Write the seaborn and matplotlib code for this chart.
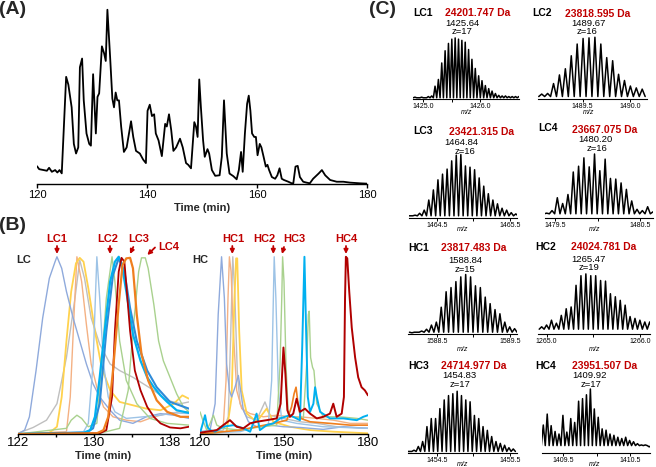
import numpy as np
import pandas as pd
import seaborn as sns
import matplotlib
matplotlib.use("Agg")
import matplotlib.pyplot as plt

# ---------------- data ----------------
# (A) total ion chromatogram: (time min, relative intensity)
tic = [(120.0, 10.2), (120.4, 8.5), (121.2, 8), (121.8, 7.6), (122.2, 9.3), (122.7, 7), (123.3, 8),
       (123.7, 6.6), (124.1, 8), (124.5, 6.1), (125.3, 61.5), (125.7, 57), (126.3, 44), (126.7, 23),
       (127.1, 17.5), (127.5, 21), (127.8, 67), (128.2, 72), (128.5, 48), (129.0, 29), (129.5, 23),
       (129.8, 22), (130.2, 63), (130.7, 29), (131.0, 50), (131.3, 52), (131.8, 79), (132.2, 75),
       (132.5, 70.6), (132.8, 100), (133.3, 72.5), (133.7, 49), (134.0, 44), (134.3, 52.5), (134.6, 48),
       (134.9, 48), (135.3, 33), (135.8, 18.4), (136.3, 21), (137.1, 36), (137.5, 27), (138.0, 19),
       (138.7, 17.5), (139.3, 14), (139.8, 12), (140.1, 42), (140.5, 45.5), (140.9, 39), (141.3, 40),
       (141.6, 29), (142.1, 25), (142.7, 16), (143.3, 34.5), (143.6, 33), (144.0, 40), (144.4, 31),
       (144.8, 19), (145.3, 21), (146.0, 26), (146.5, 21), (147.1, 12), (147.5, 11), (148.0, 9),
       (148.6, 35.5), (148.9, 33), (149.2, 27), (149.5, 60), (149.8, 44), (150.2, 25), (150.5, 15.6),
       (151.0, 20), (151.3, 17.5), (151.8, 8), (152.4, 4.7), (153.2, 5), (153.6, 15.6), (154.0, 48),
       (154.5, 17.5), (155.0, 6), (155.7, 4.5), (156.3, 2.7), (156.7, 8), (157.1, 18.4), (157.4, 7),
       (157.8, 29), (158.2, 46), (158.5, 50.7), (158.8, 42), (159.1, 29), (159.5, 27), (159.8, 27),
       (160.1, 16.5), (160.5, 23), (160.8, 21), (161.2, 15.6), (161.6, 10), (161.9, 11), (162.2, 8),
       (162.7, 4), (163.3, 3), (163.7, 5), (164.1, 9), (164.5, 3), (164.9, 2.3), (165.7, 1.3),
       (166.3, 0.4), (166.6, 0.4), (167.0, 10), (167.4, 10.4), (167.8, 4), (168.4, 1.3), (169.0, 0.8),
       (169.6, 0.4), (170.2, 3), (171.2, 6), (171.8, 8), (172.4, 5), (173.3, 2.3), (174.5, 1.3),
       (175.7, 1.3), (176.9, 0.8), (178.7, 0.4), (180.0, 0.2)]

# (B) extracted ion chromatograms, light chain window
lc_gray = [(122.0, 0.4), (123.6, 3.7), (125.0, 7.8), (126.1, 17.1), (127.1, 43.2), (128.0, 76.7),
           (128.5, 98.1), (129.0, 87.9), (129.7, 65.5), (130.6, 50.7), (131.7, 39.5), (132.7, 35.8),
           (134.1, 32.0), (135.2, 28.3), (136.3, 24.6), (137.7, 19.0), (139.1, 17.1), (140.0, 18.1)]
lc_salmon = [(122.0, 0), (127.1, 1.3), (127.5, 20.9), (127.9, 67.4), (128.2, 100), (128.7, 86.0),
             (129.2, 61.8), (129.7, 39.5), (130.3, 26.4), (131.0, 15.3), (132.0, 9.7), (133.4, 7.8),
             (134.9, 6.9), (136.3, 9.7), (137.7, 11.5), (139.1, 12.5), (140.0, 12.5)]
lc_yellow = [(122.0, 0), (125.3, 0.7), (126.1, 4.1), (126.6, 20.9), (127.1, 52.5), (127.6, 80.4),
             (128.1, 96.3), (128.5, 99.4), (128.9, 97.2), (129.4, 82.3), (130.1, 58.1), (130.8, 37.6),
             (131.7, 24.6), (132.7, 18.1), (134.1, 16.2), (135.5, 14.3), (137.0, 13.4), (138.4, 17.1),
             (139.3, 21.8), (140.0, 19.9)]
lc_periwinkle = [(122.2, 0.7), (122.7, 2.2), (123.2, 9.7), (123.9, 35.8), (124.6, 65.5), (125.3, 87.9),
                 (125.9, 97.2), (126.1, 100), (126.6, 93.5), (127.1, 80.4), (127.8, 65.5), (128.5, 52.5),
                 (129.2, 39.5), (129.9, 28.3), (130.6, 20.9), (131.7, 13.4), (132.7, 7.8), (134.1, 6.0),
                 (135.5, 9.7), (137.0, 11.5), (138.4, 10.6), (140.0, 8.8)]
lc_lightblue = [(122.0, 0), (128.9, 1.3), (129.4, 6.0), (129.9, 39.5), (130.3, 100), (130.6, 76.7),
                (131.0, 39.5), (131.5, 20.9), (132.2, 12.5), (133.4, 8.8), (135.2, 9.7), (137.0, 10.6),
                (138.4, 11.9), (140.0, 11.5)]
lc_green_a = [(122.0, 0), (127.1, 3.2), (127.6, 7.8), (128.2, 10.6), (128.7, 8.8), (129.4, 4.1),
              (130.3, 6.0), (130.8, 39.5), (131.3, 76.7), (131.9, 100), (132.2, 86.0), (132.7, 52.5),
              (133.4, 30.2), (134.5, 17.1), (135.9, 8.8), (137.7, 6.0), (140.0, 5.0)]
lc_green_b = [(122.0, 0), (130.6, 0.4), (132.7, 3.2), (133.6, 24.6), (134.1, 58.1), (134.7, 91.6),
              (135.0, 99.4), (135.4, 99.4), (135.7, 93.5), (136.3, 73.0), (136.8, 52.5), (137.3, 41.3),
              (138.0, 32.0), (138.7, 22.7), (139.4, 15.3), (140.0, 12.5)]
lc_blue = [(122.0, 0), (128.9, 0.7), (129.6, 2.2), (130.1, 9.7), (130.6, 32.0), (131.2, 61.8),
           (131.7, 86.0), (132.2, 97.2), (132.6, 100), (132.9, 96.3), (133.4, 80.4), (134.1, 56.2),
           (134.9, 41.3), (135.6, 32.0), (136.3, 26.4), (137.0, 21.8), (137.7, 18.1), (138.7, 13.4),
           (140.0, 11.9)]
lc_darkblue = [(122.0, 0), (129.2, 0.7), (129.9, 3.2), (130.6, 17.1), (131.3, 58.1), (132.0, 89.8),
               (132.6, 99.1), (133.2, 91.6), (133.8, 71.1), (134.5, 52.5), (135.6, 35.8), (136.6, 26.4),
               (138.0, 18.1), (140.0, 14.3)]
lc_orange = [(122.0, 0), (130.3, 0.4), (131.0, 2.2), (131.5, 9.7), (132.0, 35.8), (132.6, 73.0),
             (133.0, 95.3), (133.4, 99.1), (133.8, 99.4), (134.1, 93.5), (134.5, 67.4), (135.0, 45.1),
             (135.7, 30.2), (136.6, 19.0), (137.7, 12.5), (139.1, 9.7), (140.0, 9.7)]
lc_darkred = [(122.0, 0), (130.6, 0.4), (131.3, 2.2), (131.9, 20.9), (132.2, 58.1), (132.6, 91.6),
              (132.9, 99.4), (133.2, 97.2), (133.4, 84.2), (133.8, 58.1), (134.3, 35.8), (134.9, 24.6),
              (135.6, 15.3), (136.3, 9.7), (137.0, 6.0), (138.0, 3.7), (139.1, 3.2), (140.0, 4.1)]

# (B) heavy chain window
hc_gray = [(120.0, 0), (128.3, 2.2), (130.1, 9.7), (131.0, 58.1), (131.7, 100), (132.4, 80.4),
           (133.3, 35.8), (134.3, 17.1), (136.7, 9.7), (140.2, 7.8), (143.2, 18.1), (145.0, 10.6),
           (149.8, 8.8), (155.7, 6.9), (161.7, 6.0), (168.8, 4.1), (180.0, 3.2)]
hc_salmon = [(120.0, 0), (126.0, 2.2), (128.3, 4.1), (129.3, 30.2), (130.0, 76.7), (130.5, 100),
             (131.1, 91.6), (131.9, 58.1), (133.1, 24.6), (134.9, 14.3), (137.9, 11.5), (142.6, 9.7),
             (147.4, 10.6), (152.1, 9.7), (155.7, 9.7), (161.7, 8.8), (167.6, 7.8), (173.6, 6.0),
             (180.0, 6.0)]
hc_yellow = [(120.0, 0), (129.5, 1.3), (131.3, 20.9), (132.3, 76.7), (132.9, 99.1), (133.3, 99.1),
             (134.0, 58.1), (134.9, 24.6), (136.7, 11.5), (140.2, 6.9), (143.8, 14.3), (146.2, 6.9),
             (152.1, 4.1), (159.3, 2.2), (167.6, 1.3), (180.0, 0.4)]
hc_periwinkle = [(120.0, 1.3), (123.6, 2.2), (125.4, 17.1), (126.5, 67.4), (127.7, 100), (128.7, 76.7),
                 (129.5, 39.5), (130.5, 24.6), (131.3, 20.9), (132.5, 26.4), (133.7, 33.0), (134.5, 24.6),
                 (135.5, 13.4), (137.3, 6.9), (140.2, 4.1), (145.0, 5.0), (149.8, 4.1), (155.7, 3.7),
                 (164.0, 2.6), (171.2, 4.1), (180.0, 3.2)]
hc_lightblue = [(120.0, 0.4), (134.3, 1.3), (140.2, 4.1), (144.4, 5.0), (145.6, 30.2), (146.2, 76.7),
                (146.5, 100), (147.1, 76.7), (148.0, 24.6), (149.2, 7.8), (154.5, 6.0), (164.0, 4.1),
                (180.0, 3.2)]
hc_green = [(120.0, 12.5), (121.0, 7.8), (122.4, 2.2), (123.6, 6.0), (124.8, 10.6), (126.0, 5.0),
            (128.3, 3.2), (134.3, 2.2), (140.2, 3.7), (147.4, 5.0), (148.6, 39.5), (149.2, 76.7),
            (149.5, 100), (150.0, 86.0), (150.7, 39.5), (151.5, 11.5), (153.3, 9.7), (156.9, 8.8),
            (158.1, 39.5), (158.7, 67.4), (159.0, 69.3), (159.5, 43.2), (160.2, 37.6), (160.7, 35.8),
            (161.7, 17.1), (164.0, 9.7), (170.0, 9.7), (176.0, 8.8), (180.0, 7.8)]
hc_orange = [(120.0, 0), (128.3, 1.3), (134.3, 2.2), (140.2, 4.1), (146.2, 6.0), (151.0, 7.8),
             (152.7, 15.3), (153.6, 22.7), (154.3, 26.4), (155.0, 17.1), (156.0, 8.8), (159.3, 6.9),
             (166.4, 6.0), (173.6, 5.0), (180.0, 5.0)]
hc_blue = [(120.0, 0.4), (121.0, 6.0), (121.8, 10.6), (122.6, 4.1), (123.6, 2.2), (125.4, 1.3),
           (128.3, 4.1), (131.9, 5.0), (135.5, 3.2), (137.9, 1.3), (139.0, 6.0), (140.2, 11.5),
           (141.4, 2.2), (143.8, 5.0), (146.2, 6.0), (148.6, 8.8), (152.1, 10.6), (155.7, 7.8),
           (156.5, 48.8), (157.3, 100), (157.9, 58.1), (158.5, 20.9), (159.3, 12.5), (160.5, 17.1),
           (161.1, 26.4), (161.7, 20.9), (162.9, 12.5), (166.4, 8.8), (171.2, 8.8), (176.0, 7.8),
           (178.3, 9.7), (180.0, 10.6)]
hc_darkred = [(120.0, 0.7), (126.0, 2.2), (128.3, 5.0), (130.7, 7.8), (133.1, 4.1), (135.5, 3.2),
              (137.9, 6.0), (140.2, 6.9), (143.8, 7.8), (147.4, 8.8), (148.8, 17.1), (149.8, 48.8),
              (150.5, 33.9), (151.2, 13.4), (152.1, 9.7), (153.3, 11.5), (154.5, 19.9), (155.7, 12.5),
              (157.5, 14.3), (159.3, 11.5), (161.7, 8.8), (164.0, 9.7), (166.4, 11.5), (167.6, 17.1),
              (168.8, 9.7), (170.6, 11.5), (171.4, 20.9), (171.8, 76.7), (172.1, 100), (172.6, 99.1),
              (173.3, 80.4), (174.2, 60.0), (175.4, 43.2), (176.5, 32.0), (177.7, 26.4), (178.9, 24.6),
              (180.0, 21.8)]

# (C) deconvoluted isotope envelopes
spec_names = ["LC1", "LC2", "LC3", "LC4", "HC1", "HC2", "HC3", "HC4"]
spec_mass = ["24201.747 Da", "23818.595 Da", "23421.315 Da", "23667.075 Da",
             "23817.483 Da", "24024.781 Da", "24714.977 Da", "23951.507 Da"]
spec_mz = ["1425.64", "1489.67", "1464.84", "1480.20", "1588.84", "1265.47", "1454.83", "1409.92"]
spec_z = [17, 16, 16, 16, 15, 19, 17, 17]
spec_first = [1424.853, 1489.067, 1464.142, 1479.402, 1588.162, 1264.946, 1454.132, 1409.2]
spec_valley = [0.02, 0.04, 0.03, 0.07, 0.03, 0.08, 0.03, 0.12]
lc1_h = [0.03, 0.02, 0.03, 0.02, 0.04, 0.05, 0.21, 0.32, 0.59, 0.79, 0.91, 0.98, 1.0, 0.98, 0.96, 0.93,
         0.81, 0.65, 0.50, 0.38, 0.30, 0.22, 0.17, 0.13, 0.09, 0.06, 0.05, 0.05, 0.04, 0.04, 0.04, 0.04]
lc2_h = [0.08, 0.09, 0.25, 0.39, 0.49, 0.70, 0.89, 0.98, 0.99, 1.0, 0.89, 0.67, 0.62, 0.40, 0.30, 0.21,
         0.18, 0.16]
lc3_h = [0.03, 0.04, 0.07, 0.12, 0.28, 0.44, 0.60, 0.69, 0.77, 0.90, 0.99, 1.0, 0.82, 0.80, 0.76, 0.63,
         0.50, 0.38, 0.28, 0.22, 0.15, 0.12, 0.08, 0.06]
lc4_h = [0.08, 0.12, 0.32, 0.23, 0.37, 0.72, 0.81, 0.94, 0.80, 1.0, 0.74, 0.92, 0.62, 0.61, 0.55, 0.45,
         0.27, 0.14, 0.12, 0.18, 0.10]
hc1_h = [0.02, 0.03, 0.05, 0.08, 0.15, 0.20, 0.45, 0.71, 0.78, 0.88, 0.96, 1.0, 0.96, 0.81, 0.78, 0.62,
         0.51, 0.41, 0.34, 0.20, 0.12, 0.09]
hc2_h = [0.12, 0.15, 0.23, 0.18, 0.31, 0.42, 0.45, 0.81, 0.97, 1.0, 0.97, 0.97, 0.89, 0.88, 0.67, 0.62,
         0.56, 0.48, 0.29, 0.26, 0.23, 0.20, 0.20]
hc3_h = [0.03, 0.05, 0.11, 0.19, 0.43, 0.56, 0.56, 0.72, 0.86, 0.93, 0.96, 1.0, 0.93, 0.86, 0.83, 0.61,
         0.56, 0.43, 0.37, 0.27, 0.19, 0.16, 0.13, 0.09, 0.07]
hc4_h = [0.44, 0.61, 0.43, 0.34, 0.30, 0.59, 0.33, 0.54, 0.48, 0.81, 0.85, 0.91, 1.0, 0.69, 0.56, 0.38,
         0.36, 0.30, 0.28, 0.25, 0.23, 0.25, 0.20, 0.18, 0.15, 0.13, 0.13, 0.10]
spec_heights = [lc1_h, lc2_h, lc3_h, lc4_h, hc1_h, hc2_h, hc3_h, hc4_h]

# ---------------- style / layout ----------------
sns.set_style("white")
plt.rcParams["font.family"] = ["Liberation Sans", "DejaVu Sans"]

W, H = 656, 467
RED = "#C00000"
fig = plt.figure(figsize=(W / 100, H / 100), dpi=100)


def px_axes(l, t, r, b):
    return fig.add_axes([l / W, 1 - b / H, (r - l) / W, (b - t) / H])


def ftext(x, y, s, **kw):
    fig.text(x / W, 1 - y / H, s, ha="center", va="center", **kw)


def only_bottom(ax, lw=1.0):
    for s in ["left", "top", "right"]:
        ax.spines[s].set_visible(False)
    ax.spines["bottom"].set_color("black")
    ax.spines["bottom"].set_linewidth(lw)
    ax.set_yticks([])
    ax.set_ylabel("")
    ax.grid(False)


def trace(ax, pts, color, lw):
    df = pd.DataFrame(pts, columns=["t", "i"])
    sns.lineplot(data=df, x="t", y="i", ax=ax, color=color, linewidth=lw,
                 estimator=None, sort=False, legend=False)


# ---- (A)
axA = px_axes(37, 8, 367, 184)
trace(axA, tic, "black", 1.3)
axA.set_xlim(120, 180)
axA.set_ylim(0, 101)
only_bottom(axA)
axA.set_xticks([120, 140, 160, 180])
axA.tick_params(axis="x", length=3, width=1, pad=1.5, labelsize=8, colors="black", bottom=True)
axA.set_xlabel("Time (min)", fontsize=8, fontweight="bold", labelpad=2)

# ---- (B)
axL = px_axes(18, 255, 189, 434)
axH = px_axes(200, 255, 368, 434)
lc_traces = [(lc_gray, "#BFBFBF", 1.0), (lc_salmon, "#F4B183", 1.0), (lc_yellow, "#FFD24D", 1.3),
             (lc_periwinkle, "#8FAADC", 1.0), (lc_lightblue, "#9DC3E6", 1.0),
             (lc_green_a, "#A9D18E", 1.0), (lc_green_b, "#A9D18E", 1.0),
             (lc_darkblue, "#2E8BD8", 1.5), (lc_blue, "#00B0F0", 1.6),
             (lc_darkred, "#B00000", 1.3), (lc_orange, "#F07F1E", 1.6)]
hc_traces = [(hc_gray, "#BFBFBF", 1.0), (hc_salmon, "#F4B183", 1.0), (hc_yellow, "#FFD24D", 1.3),
             (hc_periwinkle, "#8FAADC", 1.0), (hc_lightblue, "#9DC3E6", 1.0),
             (hc_green, "#A9D18E", 1.0), (hc_orange, "#F07F1E", 1.2),
             (hc_blue, "#00B0F0", 1.4), (hc_darkred, "#B00000", 1.4)]
for pts, c, lw in lc_traces:
    trace(axL, pts, c, lw)
for pts, c, lw in hc_traces:
    trace(axH, pts, c, lw)

axL.set_xlim(122, 140)
axH.set_xlim(120, 180)
for ax in (axL, axH):
    ax.set_ylim(0, 101)
    only_bottom(ax)
    ax.tick_params(axis="x", length=2, width=1, pad=0.5, labelsize=9.5, colors="black", bottom=True)
    ax.set_xlabel("Time (min)", fontsize=8, fontweight="bold", labelpad=1)
axL.set_xticks([122, 126, 130, 134, 138])
axL.set_xticklabels(["122", "", "130", "", "138"])
axH.set_xticks([120, 130, 140, 150, 160, 170, 180])
axH.set_xticklabels(["120", "", "", "150", "", "", "180"])

ftext(24, 260, "LC", fontsize=8, fontweight="bold")
ftext(200, 260, "HC", fontsize=8, fontweight="bold")

peak_tags = [("LC1", (57, 239), (57, 246), (57, 254)),
             ("LC2", (107.3, 239), (110, 246), (110, 254)),
             ("LC3", (138.3, 239), (133.3, 247), (130, 254)),
             ("LC4", (168.3, 246.7), (155, 247.5), (147.3, 255)),
             ("HC1", (233.3, 239), (232.3, 246), (232.3, 254)),
             ("HC2", (264, 239), (273.3, 246), (273.3, 254)),
             ("HC3", (294, 239), (284, 247), (282, 254)),
             ("HC4", (346, 239), (346, 246), (346, 254))]
for name, tpos, a0, a1 in peak_tags:
    ftext(tpos[0], tpos[1], name, fontsize=8, fontweight="bold", color=RED)
    axL.annotate("", xy=(a1[0] / W, 1 - a1[1] / H), xytext=(a0[0] / W, 1 - a0[1] / H),
                 xycoords="figure fraction", textcoords="figure fraction",
                 arrowprops=dict(arrowstyle="-|>", color=RED, lw=1.3, mutation_scale=6,
                                 shrinkA=0, shrinkB=0))

# ---- (C)
boxes = [(412.7, 36.7, 519.3, 99), (538.3, 36, 646.7, 99), (409.3, 153.3, 517.3, 217.7),
         (545, 152.7, 653.3, 218.3), (408.3, 273.3, 516.7, 334), (538.3, 272.7, 650, 334),
         (408.3, 390, 516.7, 453.3), (541.7, 387.7, 650, 453.3)]
xlims = [(1424.814, 1426.684), (1489.031, 1490.177), (1464.126, 1465.6), (1479.382, 1480.656),
         (1588.113, 1589.591), (1264.91, 1266.107), (1454.113, 1455.591), (1409.176, 1410.8)]
major = [(1425.0, 1426.0), (1489.5, 1490.0), (1464.5, 1465.5), (1479.5, 1480.5),
         (1588.5, 1589.5), (1265.0, 1266.0), (1454.5, 1455.5), (1409.5, 1410.5)]
mid = [1425.5, None, 1465.0, 1480.0, 1589.0, 1265.5, 1455.0, 1410.0]
text_pos = [((423, 13.3), (478, 13.3), (462.7, 23), (461.7, 32)),
            ((541.7, 13.3), (597.3, 14), (588.3, 23.5), (586.7, 32)),
            ((423.3, 130.7), (481.7, 131.7), (461.7, 142.3), (465, 151)),
            ((548.3, 128.3), (605, 130), (595, 139.7), (596.7, 148.5)),
            ((418.3, 248.3), (474, 248.3), (465, 260.3), (465, 269.5)),
            ((546, 247.3), (604, 247.3), (588.3, 259), (589.3, 267.7)),
            ((418.3, 366), (474, 366), (459.3, 375.7), (460, 384.3)),
            ((546, 366), (605, 366), (590, 375.7), (590.7, 384.3))]
mz_pos = [(467, 112.5), (589, 112.5), (463, 229.5), (595, 229.5),
          (463, 349.3), (595, 349.3), (463, 465), (595, 465)]

for k in range(8):
    ax = px_axes(*boxes[k])
    h = np.asarray(spec_heights[k])
    z = spec_z[k]
    pos = spec_first[k] + np.arange(len(h)) / z
    v = spec_valley[k]
    xs = [pos[0] - 0.5 / z]
    ys = [v]
    for p, hh in zip(pos, h):
        xs += [p, p + 0.5 / z]
        ys += [hh, v]
    trace(ax, list(zip(xs, ys)), "black", 1.1)
    ax.set_xlim(*xlims[k])
    ax.set_ylim(0, 1.02)
    only_bottom(ax, lw=0.8)
    ticks = list(major[k]) + ([mid[k]] if mid[k] else [])
    labels = ["%.1f" % t for t in major[k]] + ([""] if mid[k] else [])
    ax.set_xticks(ticks)
    ax.set_xticklabels(labels)
    ax.set_xlabel("")
    ax.tick_params(axis="x", length=2, width=0.7, pad=1, labelsize=5, colors="black", bottom=True)

    (nx, ny), (mx, my), (px, py), (zx, zy) = text_pos[k]
    ftext(nx, ny, spec_names[k], fontsize=7.5, fontweight="bold", color="black")
    ftext(mx, my, spec_mass[k], fontsize=7.5, fontweight="bold", color=RED)
    ftext(px, py, spec_mz[k], fontsize=6.8, color="black")
    ftext(zx, zy, "z=%d" % spec_z[k], fontsize=6.8, color="black")
    ftext(mz_pos[k][0], mz_pos[k][1], "m/z", fontsize=5, style="italic", color="black")

# panel letters
ftext(13, 9, "(A)", fontsize=14, fontweight="bold")
ftext(13, 225, "(B)", fontsize=14, fontweight="bold")
ftext(382, 10, "(C)", fontsize=14, fontweight="bold")

fig.savefig("out.png", dpi=100)
